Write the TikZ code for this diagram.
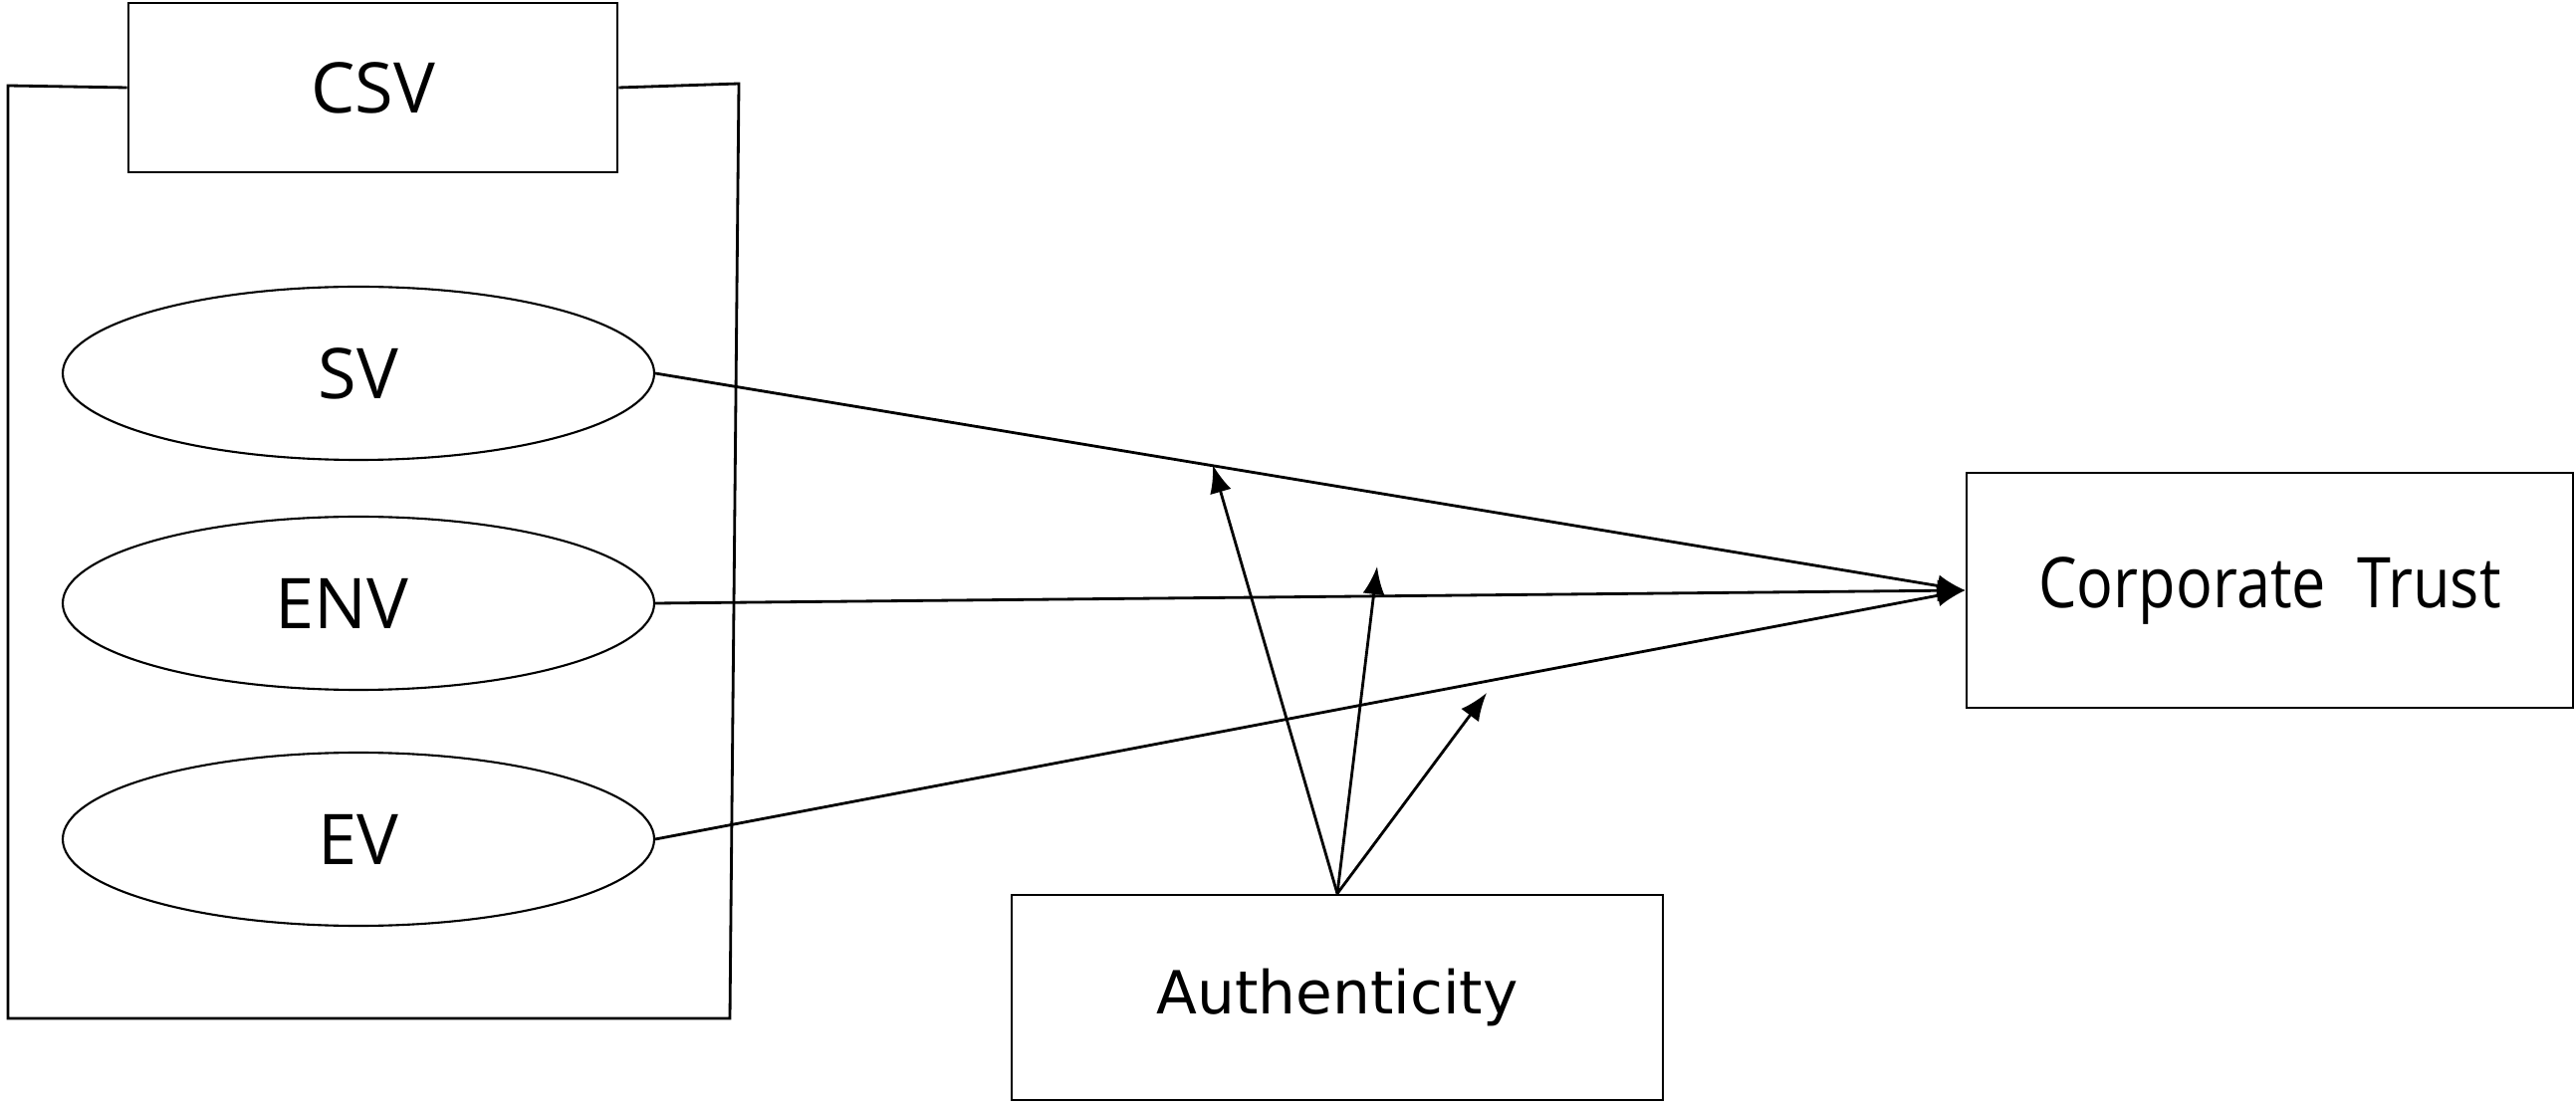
\documentclass[tikz,border=0pt]{standalone}
\usepackage{fontspec}
\setmainfont{Open Sans}
\newfontfamily\authfont{DejaVu Sans}
\newfontfamily\ctfont[FakeStretch=0.87]{Open Sans}
\usetikzlibrary{shapes.geometric,arrows.meta}
\begin{document}
\begin{tikzpicture}[x=0.1mm,y=-0.1mm,line width=0.8pt,
  boxnode/.style={draw,rectangle,inner sep=0pt,font=\fontsize{20}{24}\selectfont},
  ellnode/.style={draw,ellipse,minimum width=59.4mm,minimum height=17.4mm,inner sep=0pt,line width=0.6pt,font=\fontsize{20}{24}\selectfont},
  arr/.style={-{Latex[length=2.8mm,width=2.2mm]}}]
\useasboundingbox (0,0) rectangle (2587,1111);
\node[boxnode,minimum width=49.1mm,minimum height=17mm] (csv) at (374.5,88) {CSV};
\node[ellnode] (sv) at (360,375) {SV};
\node[ellnode] (env) at (360,606) {ENV\hspace*{3.3mm}};
\node[ellnode] (ev) at (360,843) {EV};
\node[boxnode,minimum width=60.9mm,minimum height=23.6mm,font=\ctfont\fontsize{20}{24}\selectfont] (ct) at (2279.5,593) {\raisebox{-1mm}{Corporate\ \ Trust}};
\node[boxnode,minimum width=65.4mm,minimum height=20.6mm,font=\authfont\fontsize{17}{20}\selectfont] (auth) at (1343,1002) {Authenticity};
\coordinate (ftl) at (8,86);
\coordinate (fbl) at (8,1023);
\coordinate (fbr) at (733,1023);
\coordinate (ftr) at (742,84);
\draw (csv.west) -- (ftl) -- (fbl) -- (fbr) -- (ftr) -- (csv.east);
\draw[arr] (sv.east) -- (ct.west);
\draw[arr] (env.east) -- (ct.west);
\draw[arr] (ev.east) -- (ct.west);
\coordinate (m1) at (1218,467);
\coordinate (m2) at (1383,569);
\coordinate (m3) at (1493,696);
\draw[arr] (auth.north) -- (m1);
\draw[arr] (auth.north) -- (m2);
\draw[arr] (auth.north) -- (m3);
\end{tikzpicture}
\end{document}
